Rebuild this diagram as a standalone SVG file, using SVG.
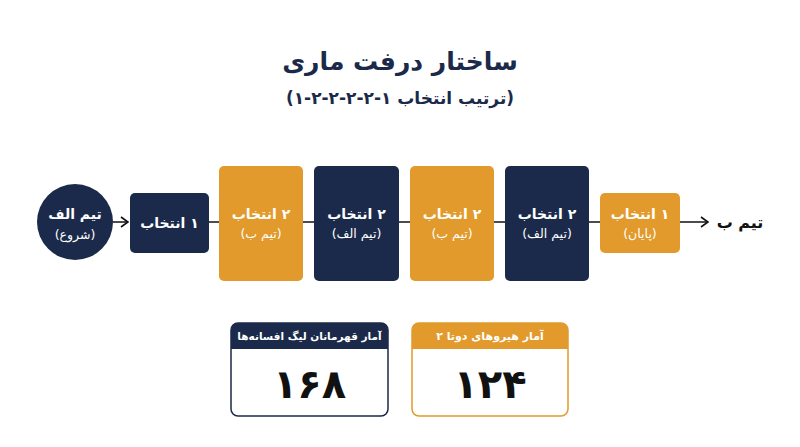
<svg xmlns="http://www.w3.org/2000/svg" width="800" height="447" viewBox="0 0 800 447">
<defs>
<style>
text{font-family:"DejaVu Sans","Noto Sans",sans-serif;direction:rtl;text-anchor:middle;font-weight:bold}
.navy{fill:#1b2a4a}
.orange{fill:#e19a2b}
.w1{fill:#fff;font-size:14px}
.w2{fill:#fff;font-size:12.5px;font-weight:normal}
.conn{stroke:#111;stroke-width:1.5;fill:none}
</style>
<marker id="arr" markerWidth="10" markerHeight="12" refX="9" refY="6" orient="auto" markerUnits="userSpaceOnUse">
<path d="M2,1 L9,6 L2,11" fill="none" stroke="#111" stroke-width="1.6"/>
</marker>
</defs>
<rect width="800" height="447" fill="#fff"/>
<text x="400" y="70" font-size="25" fill="#1b2a4a">ساختار درفت ماری</text>
<text x="400" y="104" font-size="17" fill="#1b2a4a">(ترتیب انتخاب ۱-۲-۲-۲-۲-۱)</text>
<g id="connectors">
<line class="conn" x1="113" y1="222" x2="128" y2="222" marker-end="url(#arr)"/>
<line class="conn" x1="209" y1="222" x2="219" y2="222"/>
<line class="conn" x1="303" y1="222" x2="314" y2="222"/>
<line class="conn" x1="399" y1="222" x2="410" y2="222"/>
<line class="conn" x1="494" y1="222" x2="505" y2="222"/>
<line class="conn" x1="589" y1="222" x2="600" y2="222"/>
<line class="conn" x1="680" y1="222" x2="708" y2="222" marker-end="url(#arr)"/>
</g>
<g id="start">
<circle class="navy" cx="75" cy="222" r="38"/>
<text class="w1" x="75" y="219">تیم الف</text>
<text class="w2" x="75" y="239">(شروع)</text>
</g>
<g id="pick1">
<rect class="navy" x="130" y="193" width="79" height="60" rx="5"/>
<text class="w1" x="169.5" y="228">۱ انتخاب</text>
</g>
<g id="pick2">
<rect class="orange" x="219" y="166" width="84" height="115" rx="5"/>
<text class="w1" x="261" y="219">۲ انتخاب</text>
<text class="w2" x="261" y="238">(تیم ب)</text>
</g>
<g id="pick3">
<rect class="navy" x="314" y="166" width="85" height="115" rx="5"/>
<text class="w1" x="356.5" y="219">۲ انتخاب</text>
<text class="w2" x="356.5" y="238">(تیم الف)</text>
</g>
<g id="pick4">
<rect class="orange" x="410" y="166" width="84" height="115" rx="5"/>
<text class="w1" x="452" y="219">۲ انتخاب</text>
<text class="w2" x="452" y="238">(تیم ب)</text>
</g>
<g id="pick5">
<rect class="navy" x="505" y="166" width="84" height="115" rx="5"/>
<text class="w1" x="547" y="219">۲ انتخاب</text>
<text class="w2" x="547" y="238">(تیم الف)</text>
</g>
<g id="pick6">
<rect class="orange" x="600" y="193" width="80" height="60" rx="5"/>
<text class="w1" x="640" y="219">۱ انتخاب</text>
<text class="w2" x="640" y="238">(پایان)</text>
</g>
<g id="end">
<text x="740" y="228" font-size="16" fill="#111">تیم ب</text>
</g>
<g id="stat-lol">
<rect x="231" y="323" width="157" height="93" rx="7" fill="#fff" stroke="#1b2a4a" stroke-width="1.5"/>
<path class="navy" d="M231,349 V330 a7,7 0 0 1 7,-7 H381 a7,7 0 0 1 7,7 V349 Z"/>
<text x="309.5" y="340" font-size="10.5" fill="#fff">آمار قهرمانان لیگ افسانه‌ها</text>
<text x="309.5" y="398" font-size="40" fill="#111">۱۶۸</text>
</g>
<g id="stat-dota">
<rect x="412" y="323" width="156" height="93" rx="7" fill="#fff" stroke="#e19a2b" stroke-width="1.5"/>
<path class="orange" d="M412,349 V330 a7,7 0 0 1 7,-7 H561 a7,7 0 0 1 7,7 V349 Z"/>
<text x="490" y="340" font-size="11" fill="#fff">آمار هیروهای دوتا ۲</text>
<text x="490" y="398" font-size="40" fill="#111">۱۲۴</text>
</g>
</svg>
